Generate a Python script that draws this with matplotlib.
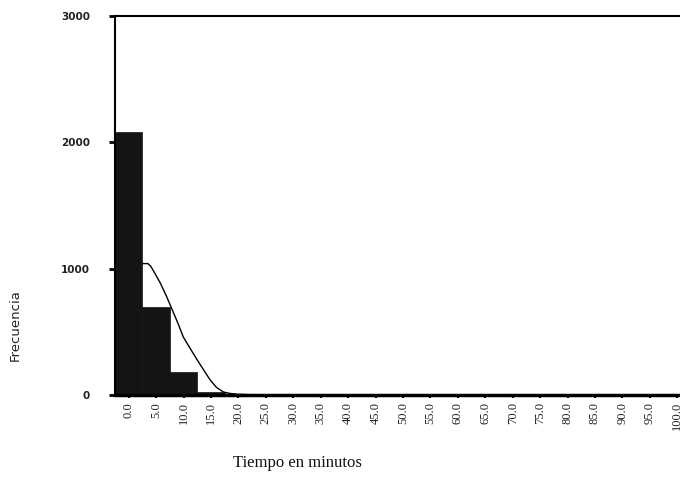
import matplotlib.pyplot as plt

# categorias del histograma (minutos)
etiquetas = ['0.0', '5.0', '10.0', '15.0', '20.0', '25.0', '30.0', '35.0', '40.0',
             '45.0', '50.0', '55.0', '60.0', '65.0', '70.0', '75.0', '80.0',
             '85.0', '90.0', '95.0', '100.0']
frecuencia = [2080, 700, 185, 22, 10, 8, 6, 4, 2, 1, 1, 0, 0, 0, 0, 0, 0, 0, 0, 0, 0]

# curva ajustada (posicion en categorias, frecuencia)
curva_x = [0.49, 0.7, 0.8, 0.95, 1.15, 1.37, 1.59, 1.8, 1.99, 2.25, 2.5, 2.75,
           2.97, 3.2, 3.45, 3.7, 3.96, 4.5, 6, 10, 15, 20]
curva_y = [1040, 1040, 1020, 965, 887, 785, 673, 565, 459, 365, 277, 192,
           119, 60, 24, 12, 6, 2, 0, 0, 0, 0]

fig = plt.figure(figsize=(6.8, 4.83), dpi=100)
W, H = 680, 483
ax = fig.add_axes([115 / W, 1 - 395 / H, (691 - 115) / W, (395 - 16) / H])

pos = list(range(len(etiquetas)))
ax.bar(pos, frecuencia, width=1.0, color='#141414', edgecolor='#141414', linewidth=0.5)
ax.plot(curva_x, curva_y, color='black', linewidth=1.0)

ax.set_xlim(-0.5, 20.5)
ax.set_ylim(0, 3000)
ax.set_yticks([0, 1000, 2000, 3000])
ax.set_yticklabels(['0', '1000', '2000', '3000'], fontsize=7.5,
                   fontweight='bold', family='DejaVu Sans', color='#222222')
ax.set_xticks(pos)
ax.set_xticklabels(etiquetas, rotation=90, fontsize=9, family='Liberation Serif',
                   color='#222222')
ax.tick_params(axis='y', length=4, width=2, pad=14)
ax.tick_params(axis='x', length=2, width=1.5, pad=3)

ax.spines['left'].set_linewidth(1.5)
ax.spines['top'].set_linewidth(1.5)
ax.spines['bottom'].set_linewidth(2.5)
ax.spines['right'].set_linewidth(1.5)

fig.text(15 / W, 1 - 325 / H, 'Frecuencia', rotation=90, ha='center',
         va='center', fontsize=9.5, color='#222222', family='DejaVu Sans')
fig.text(297 / W, 1 - 463 / H, 'Tiempo en minutos', ha='center', va='center',
         fontsize=12, family='Liberation Serif', color='#111111')

fig.savefig('out.png', dpi=100)
